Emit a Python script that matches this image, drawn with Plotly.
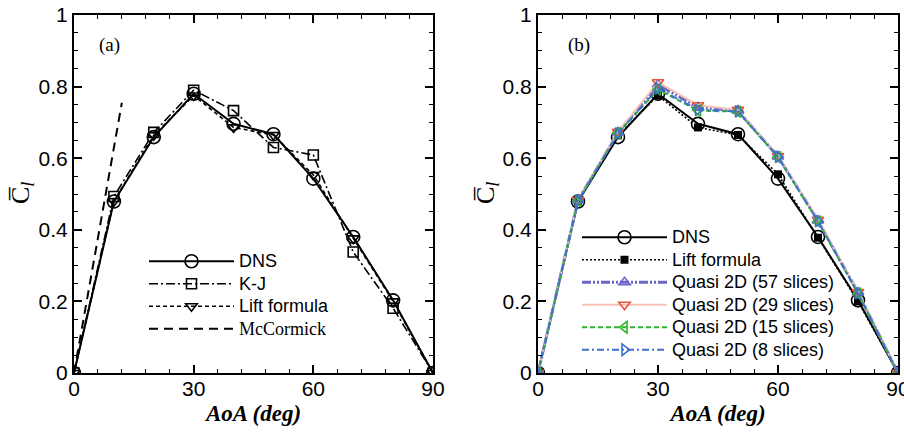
import plotly.graph_objects as go

aoa = [0, 10, 20, 30, 40, 50, 60, 70, 80, 90]

# Panel (a)
dns = [0, 0.479, 0.659, 0.780, 0.696, 0.667, 0.543, 0.380, 0.203, 0]
kj = [0, 0.493, 0.672, 0.790, 0.733, 0.630, 0.609, 0.338, 0.181, 0]
lift_a = [0, 0.480, 0.664, 0.775, 0.686, 0.665, 0.553, 0.376, 0.200, 0]
mccormick_x = [0, 12]
mccormick_y = [0, 0.755]

# Panel (b)
lift_b = [0, 0.480, 0.664, 0.775, 0.686, 0.665, 0.555, 0.378, 0.200, 0]
q57 = [0, 0.482, 0.672, 0.805, 0.742, 0.733, 0.605, 0.426, 0.225, 0]
q29 = [0, 0.483, 0.674, 0.812, 0.748, 0.735, 0.606, 0.428, 0.226, 0]
q15 = [0, 0.481, 0.670, 0.792, 0.733, 0.730, 0.603, 0.423, 0.222, 0]
q8 = [0, 0.481, 0.669, 0.795, 0.735, 0.731, 0.604, 0.424, 0.223, 0]

x_ticks = [0, 30, 60, 90]
y_ticks = [0, 0.2, 0.4, 0.6, 0.8, 1]
y_ticklabels = ["0", "0.2", "0.4", "0.6", "0.8", "1"]

SANS = "Liberation Sans, Arial, sans-serif"
SERIF = "Liberation Serif, Times New Roman, serif"


def nm(text, serif=False):
    fam = "font-family:Liberation Serif;" if serif else ""
    return f"<span style='{fam}font-size:18px'>{text}</span>"


fig = go.Figure()

# ---- Panel (a)
fig.add_trace(go.Scatter(x=aoa, y=dns, name=nm("DNS"), mode="lines+markers",
                         line=dict(color="black", width=2),
                         marker=dict(symbol="circle-open", size=13, color="black", line=dict(width=1.6)),
                         xaxis="x", yaxis="y", legend="legend"))
fig.add_trace(go.Scatter(x=aoa, y=kj, name=nm("K-J"), mode="lines+markers",
                         line=dict(color="black", width=1.6, dash="9px,3px,2px,3px"),
                         marker=dict(symbol="square-open", size=10, color="black", line=dict(width=1.6)),
                         xaxis="x", yaxis="y", legend="legend"))
fig.add_trace(go.Scatter(x=aoa, y=lift_a, name=nm("Lift formula"), mode="lines+markers",
                         line=dict(color="black", width=1.6, dash="4px,3px"),
                         marker=dict(symbol="triangle-down-open", size=10, color="black", line=dict(width=1.6)),
                         xaxis="x", yaxis="y", legend="legend"))
fig.add_trace(go.Scatter(x=mccormick_x, y=mccormick_y, name=nm("McCormick", serif=True),
                         mode="lines",
                         line=dict(color="black", width=2, dash="9px,6px"),
                         xaxis="x", yaxis="y", legend="legend"))

# ---- Panel (b)
fig.add_trace(go.Scatter(x=aoa, y=dns, name=nm("DNS"), mode="lines+markers",
                         line=dict(color="black", width=2),
                         marker=dict(symbol="circle-open", size=13, color="black", line=dict(width=1.6)),
                         xaxis="x2", yaxis="y2", legend="legend2"))
fig.add_trace(go.Scatter(x=aoa, y=lift_b, name=nm("Lift formula"), mode="lines+markers",
                         line=dict(color="black", width=1.6, dash="2px,2px"),
                         marker=dict(symbol="square", size=8, color="black"),
                         xaxis="x2", yaxis="y2", legend="legend2"))
fig.add_trace(go.Scatter(x=aoa, y=q57, name=nm("Quasi 2D (57 slices)"), mode="lines+markers",
                         line=dict(color="#6b66c9", width=3, dash="9px,2px,2px,2px,2px,2px"),
                         marker=dict(symbol="triangle-up-open", size=10, color="#6b66c9", line=dict(width=1.6)),
                         xaxis="x2", yaxis="y2", legend="legend2"))
fig.add_trace(go.Scatter(x=aoa, y=q29, name=nm("Quasi 2D (29 slices)"), mode="lines+markers",
                         line=dict(color="#f6c3b6", width=2),
                         marker=dict(symbol="triangle-down-open", size=10, color="#e8553a", line=dict(width=1.6)),
                         xaxis="x2", yaxis="y2", legend="legend2"))
fig.add_trace(go.Scatter(x=aoa, y=q15, name=nm("Quasi 2D (15 slices)"), mode="lines+markers",
                         line=dict(color="#2fb52f", width=2, dash="5px,3px"),
                         marker=dict(symbol="triangle-left-open", size=10, color="#2fb52f", line=dict(width=1.6)),
                         xaxis="x2", yaxis="y2", legend="legend2"))
fig.add_trace(go.Scatter(x=aoa, y=q8, name=nm("Quasi 2D (8 slices)"), mode="lines+markers",
                         line=dict(color="#3f70d0", width=2, dash="7px,3px,2px,3px"),
                         marker=dict(symbol="triangle-right-open", size=10, color="#3f70d0", line=dict(width=1.6)),
                         xaxis="x2", yaxis="y2", legend="legend2"))

OFF = 0  # body margin removed below via post_script
W, H = 904 - OFF, 435 - OFF


def px_x(sx):
    return (sx - OFF) / W


def px_y(sy):
    return 1 - (sy - OFF) / H


ybot, ytop = px_y(373), px_y(15)


def xax(domain, anchor):
    return dict(domain=domain, range=[0, 90], tickvals=x_ticks, ticks="inside", ticklen=8, tickwidth=2,
                tickcolor="black", showline=True, linecolor="black", linewidth=2, mirror="allticks",
                showgrid=False, zeroline=False, automargin=False, anchor=anchor,
                tickfont=dict(family=SANS, size=21, color="black"), ticklabelstandoff=-4,
                ticklabeloverflow="allow",
                minor=dict(dtick=6, tick0=0, ticks="inside", ticklen=4, tickwidth=1, tickcolor="black"),
                title=dict(text="<b><i>AoA (deg)</i></b>", font=dict(family=SERIF, size=23, color="black"),
                           standoff=6))


def yax(domain, anchor):
    return dict(domain=domain, range=[0, 1], tickvals=y_ticks, ticktext=y_ticklabels, ticks="inside",
                ticklen=8, tickwidth=2, tickcolor="black", showline=True, linecolor="black", linewidth=2,
                mirror="allticks", showgrid=False, zeroline=False, anchor=anchor, automargin=False,
                tickfont=dict(family=SANS, size=21, color="black"), ticklabeloverflow="allow",
                minor=dict(dtick=0.05, tick0=0, ticks="inside", ticklen=4, tickwidth=1, tickcolor="black"))


fig.update_layout(
    width=W, height=H, margin=dict(l=0, r=0, t=0, b=0, autoexpand=False),
    paper_bgcolor="white", plot_bgcolor="white",
    xaxis=xax([px_x(74), px_x(433)], "y"),
    yaxis=yax([ybot, ytop], "x"),
    xaxis2=xax([px_x(538), px_x(898)], "y2"),
    yaxis2=yax([ybot, ytop], "x2"),
    legend=dict(x=px_x(144), y=px_y(245), xanchor="left", yanchor="top", bgcolor="rgba(0,0,0,0)",
                font=dict(family=SANS, size=15, color="black"), itemwidth=85, tracegroupgap=0),
    legend2=dict(x=px_x(577), y=px_y(221), xanchor="left", yanchor="top", bgcolor="rgba(0,0,0,0)",
                 font=dict(family=SANS, size=15, color="black"), itemwidth=85, tracegroupgap=0),
)

ann_specs = [
    ("(a)", 97, 45, "left", 19),
    ("(b)", 566, 45, "left", 19),
    ("C\u0305<sub><i>l</i></sub>", 22, 193, "center", 26),
    ("C\u0305<sub><i>l</i></sub>", 487, 193, "center", 26),
]
anns = []
for text, sx, sy, xa, fs in ann_specs:
    anns.append(dict(text=text, x=px_x(sx), y=px_y(sy), xref="paper", yref="paper", xanchor=xa,
                     yanchor="middle", showarrow=False, textangle=-90 if text.startswith("C") else 0,
                     font=dict(family=SERIF, size=fs, color="black")))
fig.update_layout(annotations=anns)

fig.write_html("out.html", config={"displayModeBar": False},
               post_script="document.body.style.margin='0';document.body.style.overflow='hidden';")
